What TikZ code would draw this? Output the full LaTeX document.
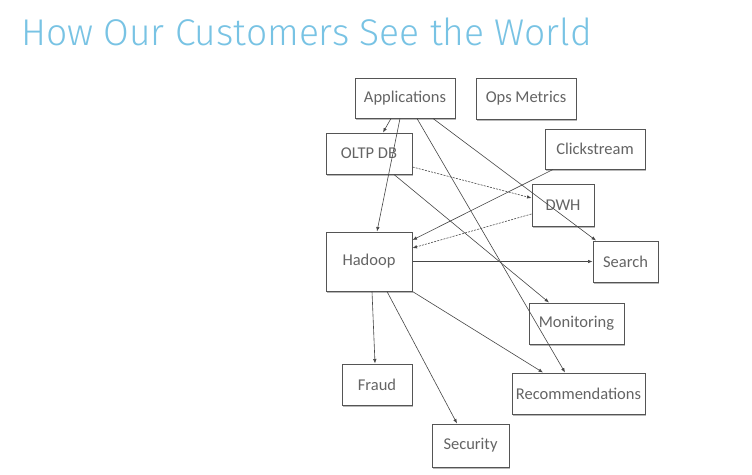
\documentclass[tikz,border=0pt]{standalone}
\usepackage{fontspec}
\setmainfont{Carlito}
\newfontfamily\titlefont{Fira Sans}[UprightFont=* Light]
\usetikzlibrary{arrows.meta,shadows}
\definecolor{titleblue}{RGB}{120,195,228}
\definecolor{boxline}{RGB}{85,85,85}
\definecolor{boxtext}{RGB}{100,100,100}
\definecolor{edgecol}{RGB}{70,70,70}
\begin{document}
\begin{tikzpicture}[x=1pt,y=-1pt,
  box/.style={draw=boxline,line width=1pt,fill=white,inner sep=0pt,
    font=\fontsize{16.5}{19}\selectfont,text=boxtext,
    drop shadow={shadow xshift=1.2pt,shadow yshift=-1.6pt,fill=black!55,opacity=0.5}},
  edge/.style={draw=edgecol,line width=0.6pt,-{Latex[length=4.5pt,width=3.5pt]}},
  dedge/.style={edge,dash pattern=on 2pt off 1.2pt}]
\fill[white] (0,0) rectangle (752,474);
\useasboundingbox (0,0) rectangle (752,474);
\node[anchor=base west,inner sep=0pt,text=titleblue,font=\titlefont\fontsize{37.2}{41}\selectfont] (title) at (21,45) {How Our Customers See the World};
\node[box,minimum width=100pt,minimum height=40pt] (app) at (405,98) {Applications};
\node[box,minimum width=100pt,minimum height=41pt] (ops) at (526,98.5) {Ops Metrics};
\node[box,minimum width=86pt,minimum height=41pt] (oltp) at (369,153.5) {OLTP DB};
\node[box,minimum width=100pt,minimum height=40pt] (click) at (595,149) {Clickstream};
\node[box,minimum width=62pt,minimum height=42pt] (dwh) at (563,205) {DWH};
\node[box,minimum width=86pt,minimum height=59pt] (hadoop) at (369,261.5) {Hadoop};
\node[box,minimum width=65pt,minimum height=41pt] (search) at (625.5,261.5) {Search};
\node[box,minimum width=95pt,minimum height=41pt] (mon) at (576.5,323.5) {Monitoring};
\node[box,minimum width=70pt,minimum height=41pt] (fraud) at (377,384.5) {Fraud};
\node[box,minimum width=133pt,minimum height=41pt] (rec) at (578.5,393.5) {Recommendations};
\node[box,minimum width=77pt,minimum height=43pt] (sec) at (470.5,445.5) {Security};
\path[edge] ([xshift=-14pt]app.south) -- ([xshift=14pt]oltp.north);
\path[edge] ([xshift=-5pt]app.south) -- ([xshift=8pt]hadoop.north);
\path[edge] ([xshift=12pt]app.south) -- ([xshift=-13.5pt]rec.north);
\path[edge] ([xshift=28pt]app.south) -- ([xshift=-29.5pt]search.north);
\path[dedge] ([yshift=-13.5pt]oltp.east) -- ([yshift=7pt]dwh.west);
\path[edge] ([xshift=25pt]oltp.south) -- ([xshift=-27.5pt]mon.north);
\path[edge] ([xshift=-42pt]click.south) -- ([yshift=21.5pt]hadoop.east);
\path[dedge] ([yshift=-9pt]dwh.west) -- ([yshift=13.5pt]hadoop.east);
\path[edge] (hadoop.east) -- (search.west);
\path[edge] ([xshift=3pt]hadoop.south) -- ([xshift=-2pt]fraud.north);
\path[edge] ([xshift=18pt]hadoop.south) -- ([xshift=-13.5pt]sec.north);
\path[edge] (hadoop.south east) -- ([xshift=-35.5pt]rec.north);
\end{tikzpicture}
\end{document}
